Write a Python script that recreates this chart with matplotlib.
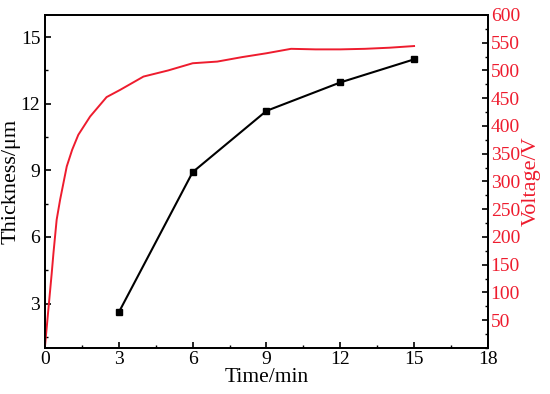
import matplotlib
matplotlib.use("Agg")
import matplotlib.pyplot as plt
from matplotlib.ticker import MultipleLocator

time_thk = [3, 6, 9, 12, 15]
thickness = [2.61, 8.92, 11.68, 12.96, 14.0]

time_v = [0, 0.13, 0.27, 0.34, 0.47, 0.61, 0.88, 1.1, 1.35, 1.83, 2.5, 3.05,
          4.0, 5.0, 6.0, 7.0, 8.0, 9.0, 10.0, 11.0, 12.0, 13.0, 14.0, 15.0]
voltage = [5, 68, 135, 171, 231, 267, 327, 357, 384, 417, 452, 465,
           489, 500, 513, 516, 524, 531, 539, 538, 538, 539, 541, 544]

red = "#ee1c2e"
plt.rcParams['font.family'] = ['Liberation Serif', 'DejaVu Serif']

fig = plt.figure(figsize=(5.5, 3.94), dpi=100)
ax = fig.add_axes([0.082, 0.117, 0.805, 0.845])
ax2 = ax.twinx()

ax.plot(time_thk, thickness, color='black', lw=1.5, marker='s', ms=4.5, zorder=3)
ax2.plot(time_v, voltage, color=red, lw=1.4)

ax.set_xlim(0, 18)
ax.set_ylim(1, 16)
ax2.set_ylim(0, 600)
ax.xaxis.set_major_locator(MultipleLocator(3))
ax.xaxis.set_minor_locator(MultipleLocator(1.5))
ax.yaxis.set_major_locator(MultipleLocator(3))
ax.yaxis.set_minor_locator(MultipleLocator(1.5))
ax2.yaxis.set_minor_locator(MultipleLocator(25))
ax2.set_yticks(range(50, 601, 50))

for a in (ax, ax2):
    for s in a.spines.values():
        s.set_linewidth(1.3)
ax.tick_params(axis='both', which='major', direction='in', length=4.5, width=1.2, labelsize=14, top=False)
ax.tick_params(axis='x', which='major', pad=2)
ax.tick_params(axis='both', which='minor', direction='in', length=2.5, width=1.0, top=False)
ax2.tick_params(axis='y', which='major', direction='in', length=4.5, width=1.2, labelsize=14, labelcolor=red, pad=2)
ax2.tick_params(axis='y', which='minor', direction='in', length=2.5, width=1.0)

ax.set_xlabel('Time/min', fontsize=15.5, labelpad=0)
ax.set_ylabel('Thickness/μm', fontsize=16, labelpad=0)
ax2.set_ylabel('Voltage/V', fontsize=16, color=red, labelpad=1)

fig.savefig('out.png', dpi=100)
